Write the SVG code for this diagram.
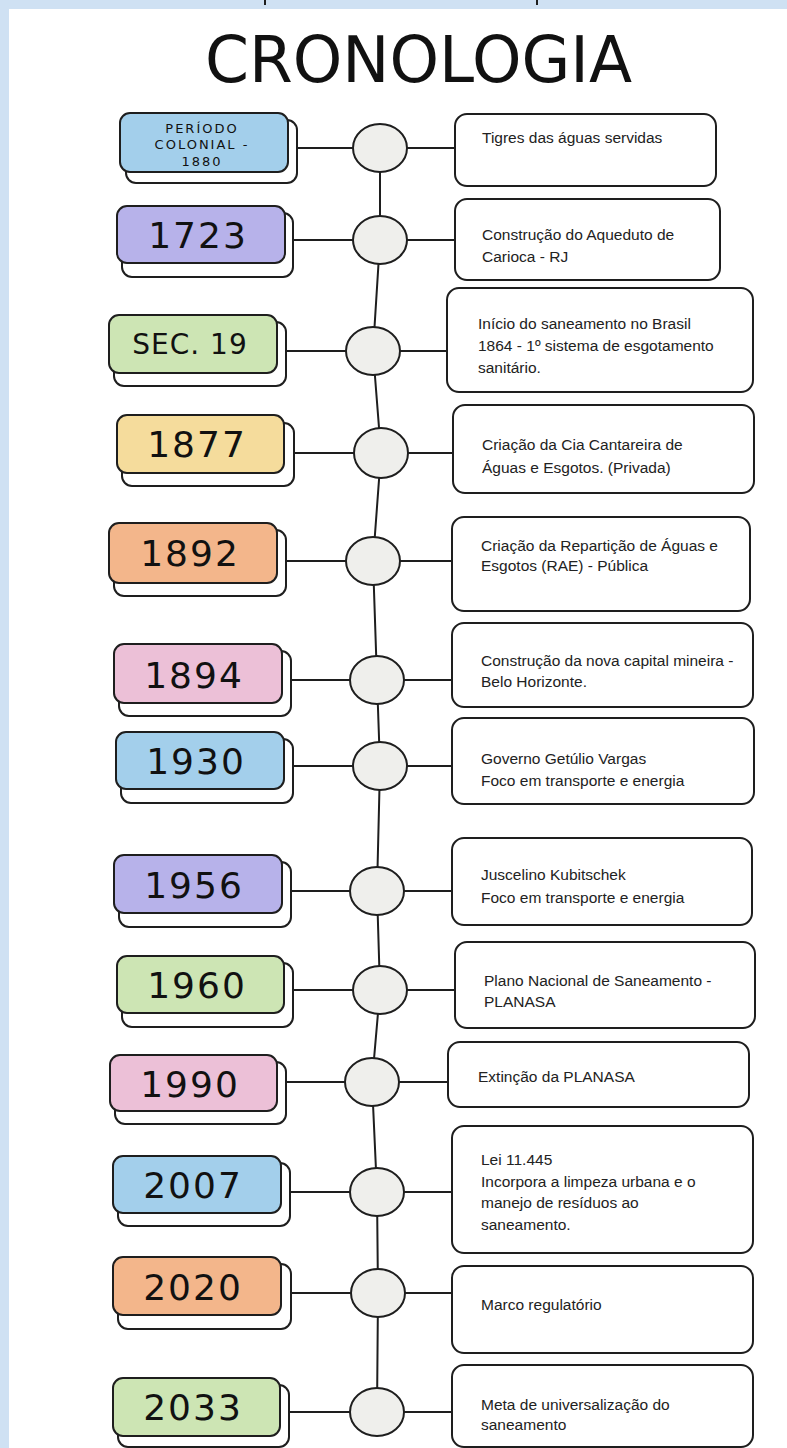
<svg xmlns="http://www.w3.org/2000/svg" width="787" height="1448" viewBox="0 0 787 1448">
<style>
.bg{fill:#cfe1f3}
.card{fill:#ffffff}
.sh{fill:#ffffff;stroke:#1e1e1e;stroke-width:2}
.fr{stroke:#1e1e1e;stroke-width:2}
.rb{fill:#ffffff;stroke:#1e1e1e;stroke-width:2}
.dot{fill:#efefec;stroke:#1e1e1e;stroke-width:2}
.ln{stroke:#1e1e1e;stroke-width:2;fill:none}
.yr{font-family:"DejaVu Sans","Liberation Sans",sans-serif;font-size:36px;fill:#111;text-anchor:middle;letter-spacing:2px}
.sm{font-family:"DejaVu Sans","Liberation Sans",sans-serif;font-size:13px;fill:#111;text-anchor:middle;letter-spacing:2px}
.tx{font-family:"Liberation Sans",Arial,sans-serif;font-size:15.5px;fill:#222}
.title{font-family:"DejaVu Sans","Liberation Sans",sans-serif;font-size:64px;fill:#111}
.blue{fill:#a3cfeb}.purple{fill:#b7b2ea}.green{fill:#cde5b4}.yellow{fill:#f5dc9c}.orange{fill:#f3b68b}.pink{fill:#ecc0d7}
</style>
<rect class="bg" x="0" y="0" width="787" height="1448"/>
<rect class="card" x="9" y="9" width="778" height="1439"/>
<line class="ln" x1="265" y1="0" x2="265" y2="5"/>
<line class="ln" x1="537" y1="0" x2="537" y2="5"/>
<text class="title" x="205" y="82" textLength="427" lengthAdjust="spacingAndGlyphs">CRONOLOGIA</text>

<g id="connectors">
<polyline class="ln" points="380,148 380,240 373,351 381,453 373,561 377,680 380,766 377,891 380,990 372,1082 377,1192 378,1293 377,1412"/>
<line class="ln" x1="297" y1="148" x2="455" y2="148"/>
<line class="ln" x1="293" y1="240" x2="455" y2="240"/>
<line class="ln" x1="286" y1="351" x2="447" y2="351"/>
<line class="ln" x1="294" y1="453" x2="453" y2="453"/>
<line class="ln" x1="286" y1="561" x2="452" y2="561"/>
<line class="ln" x1="291" y1="680" x2="452" y2="680"/>
<line class="ln" x1="293" y1="766" x2="452" y2="766"/>
<line class="ln" x1="291" y1="891" x2="452" y2="891"/>
<line class="ln" x1="293" y1="990" x2="455" y2="990"/>
<line class="ln" x1="286" y1="1082" x2="448" y2="1082"/>
<line class="ln" x1="290" y1="1192" x2="452" y2="1192"/>
<line class="ln" x1="291" y1="1293" x2="452" y2="1293"/>
<line class="ln" x1="289" y1="1412" x2="452" y2="1412"/>
</g>

<g id="n1">
<rect class="sh" x="126" y="120" width="171" height="63" rx="10"/>
<rect class="fr blue" x="120" y="113" width="168" height="59" rx="10"/>
<text class="sm" x="202" y="133">PERÍODO</text>
<text class="sm" x="202" y="149">COLONIAL -</text>
<text class="sm" x="202" y="166">1880</text>
<ellipse class="dot" cx="380" cy="148" rx="27" ry="24"/>
<rect class="rb" x="455" y="114" width="261" height="72" rx="12"/>
<text class="tx" x="482" y="143">Tigres das águas servidas</text>
</g>

<g id="n2">
<rect class="sh" x="122" y="213" width="171" height="64" rx="10"/>
<rect class="fr purple" x="117" y="206" width="168" height="57" rx="10"/>
<text class="yr" x="198" y="248">1723</text>
<ellipse class="dot" cx="380" cy="240" rx="27" ry="24"/>
<rect class="rb" x="455" y="199" width="265" height="81" rx="12"/>
<text class="tx" x="482" y="240">Construção do Aqueduto de</text>
<text class="tx" x="482" y="262">Carioca - RJ</text>
</g>

<g id="n3">
<rect class="sh" x="114" y="322" width="172" height="64" rx="10"/>
<rect class="fr green" x="109" y="315" width="168" height="58" rx="10"/>
<text class="yr" x="190" y="354" style="font-size:28px;letter-spacing:1px">SEC. 19</text>
<ellipse class="dot" cx="373" cy="351" rx="27" ry="24"/>
<rect class="rb" x="447" y="288" width="306" height="104" rx="12"/>
<text class="tx" x="478" y="329">Início do saneamento no Brasil</text>
<text class="tx" x="478" y="351">1864 - 1º sistema de esgotamento</text>
<text class="tx" x="478" y="373">sanitário.</text>
</g>

<g id="n4">
<rect class="sh" x="122" y="423" width="172" height="63" rx="10"/>
<rect class="fr yellow" x="117" y="415" width="167" height="58" rx="10"/>
<text class="yr" x="197" y="457">1877</text>
<ellipse class="dot" cx="381" cy="453" rx="27" ry="25"/>
<rect class="rb" x="453" y="405" width="301" height="88" rx="12"/>
<text class="tx" x="482" y="450">Criação da Cia Cantareira de</text>
<text class="tx" x="482" y="473">Águas e Esgotos. (Privada)</text>
</g>

<g id="n5">
<rect class="sh" x="114" y="530" width="172" height="66" rx="10"/>
<rect class="fr orange" x="109" y="523" width="168" height="60" rx="10"/>
<text class="yr" x="190" y="566">1892</text>
<ellipse class="dot" cx="373" cy="561" rx="27" ry="24"/>
<rect class="rb" x="452" y="517" width="298" height="94" rx="12"/>
<text class="tx" x="481" y="551">Criação da Repartição de Águas e</text>
<text class="tx" x="481" y="571">Esgotos (RAE) - Pública</text>
</g>

<g id="n6">
<rect class="sh" x="119" y="651" width="172" height="65" rx="10"/>
<rect class="fr pink" x="114" y="644" width="168" height="59" rx="10"/>
<text class="yr" x="194" y="688">1894</text>
<ellipse class="dot" cx="377" cy="680" rx="27" ry="24"/>
<rect class="rb" x="452" y="623" width="301" height="84" rx="12"/>
<text class="tx" x="481" y="666">Construção da nova capital mineira -</text>
<text class="tx" x="481" y="687">Belo Horizonte.</text>
</g>

<g id="n7">
<rect class="sh" x="121" y="739" width="172" height="64" rx="10"/>
<rect class="fr blue" x="116" y="732" width="168" height="57" rx="10"/>
<text class="yr" x="196" y="774">1930</text>
<ellipse class="dot" cx="380" cy="766" rx="27" ry="24"/>
<rect class="rb" x="452" y="718" width="302" height="86" rx="12"/>
<text class="tx" x="481" y="764">Governo Getúlio Vargas</text>
<text class="tx" x="481" y="786">Foco em transporte e energia</text>
</g>

<g id="n8">
<rect class="sh" x="119" y="862" width="172" height="65" rx="10"/>
<rect class="fr purple" x="114" y="855" width="168" height="58" rx="10"/>
<text class="yr" x="194" y="898">1956</text>
<ellipse class="dot" cx="377" cy="891" rx="27" ry="24"/>
<rect class="rb" x="452" y="838" width="300" height="87" rx="12"/>
<text class="tx" x="481" y="880">Juscelino Kubitschek</text>
<text class="tx" x="481" y="903">Foco em transporte e energia</text>
</g>

<g id="n9">
<rect class="sh" x="122" y="963" width="171" height="64" rx="10"/>
<rect class="fr green" x="117" y="956" width="167" height="57" rx="10"/>
<text class="yr" x="197" y="998">1960</text>
<ellipse class="dot" cx="380" cy="990" rx="27" ry="24"/>
<rect class="rb" x="455" y="942" width="300" height="86" rx="12"/>
<text class="tx" x="484" y="986">Plano Nacional de Saneamento -</text>
<text class="tx" x="484" y="1007">PLANASA</text>
</g>

<g id="n10">
<rect class="sh" x="115" y="1062" width="171" height="62" rx="10"/>
<rect class="fr pink" x="110" y="1055" width="167" height="56" rx="10"/>
<text class="yr" x="190" y="1097">1990</text>
<ellipse class="dot" cx="372" cy="1082" rx="27" ry="24"/>
<rect class="rb" x="448" y="1042" width="301" height="65" rx="12"/>
<text class="tx" x="478" y="1082">Extinção da PLANASA</text>
</g>

<g id="n11">
<rect class="sh" x="118" y="1163" width="172" height="63" rx="10"/>
<rect class="fr blue" x="113" y="1156" width="168" height="57" rx="10"/>
<text class="yr" x="193" y="1198">2007</text>
<ellipse class="dot" cx="377" cy="1192" rx="27" ry="24"/>
<rect class="rb" x="452" y="1126" width="301" height="127" rx="12"/>
<text class="tx" x="481" y="1165">Lei 11.445</text>
<text class="tx" x="481" y="1187">Incorpora a limpeza urbana e o</text>
<text class="tx" x="481" y="1208">manejo de resíduos ao</text>
<text class="tx" x="481" y="1230">saneamento.</text>
</g>

<g id="n12">
<rect class="sh" x="118" y="1264" width="173" height="65" rx="10"/>
<rect class="fr orange" x="113" y="1257" width="168" height="58" rx="10"/>
<text class="yr" x="193" y="1300">2020</text>
<ellipse class="dot" cx="378" cy="1293" rx="27" ry="24"/>
<rect class="rb" x="452" y="1266" width="301" height="87" rx="12"/>
<text class="tx" x="481" y="1310">Marco regulatório</text>
</g>

<g id="n13">
<rect class="sh" x="118" y="1385" width="171" height="62" rx="10"/>
<rect class="fr green" x="113" y="1378" width="167" height="58" rx="10"/>
<text class="yr" x="193" y="1420">2033</text>
<ellipse class="dot" cx="377" cy="1412" rx="27" ry="24"/>
<rect class="rb" x="452" y="1365" width="301" height="82" rx="12"/>
<text class="tx" x="481" y="1410">Meta de universalização do</text>
<text class="tx" x="481" y="1430">saneamento</text>
</g>
</svg>
